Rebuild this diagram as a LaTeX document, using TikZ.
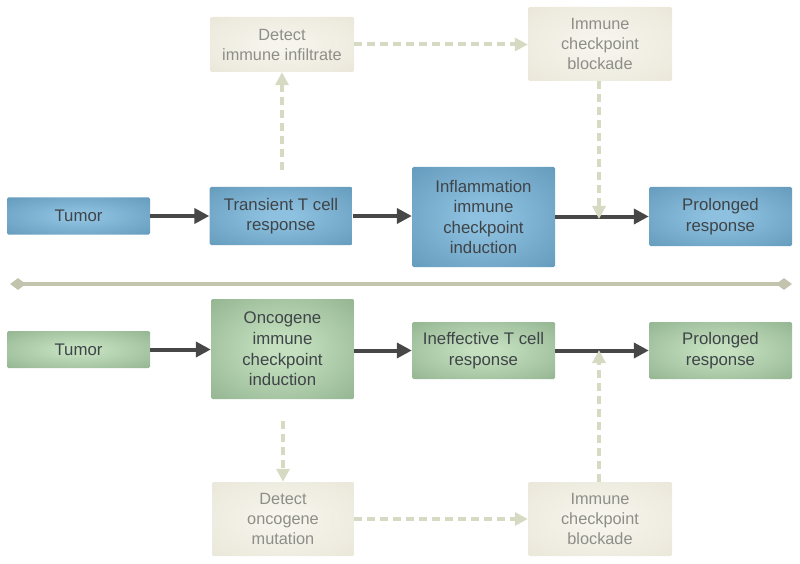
\documentclass[tikz,border=0pt]{standalone}
\usepackage{fontspec}
\setmainfont{Liberation Sans}
\usetikzlibrary{arrows.meta,shapes.geometric}
\definecolor{blueIn}{HTML}{8EC1E0}
\definecolor{blueOut}{HTML}{4F87A9}
\definecolor{greenIn}{HTML}{C4E0BF}
\definecolor{greenOut}{HTML}{7C9F7A}
\definecolor{beigeIn}{HTML}{F6F4EC}
\definecolor{beigeOut}{HTML}{E4E1D0}
\definecolor{darktext}{HTML}{3F4448}
\definecolor{lighttext}{HTML}{8E8E88}
\definecolor{dashcol}{HTML}{D6DAC3}
\definecolor{divcol}{HTML}{C2C4AE}
\definecolor{arrowcol}{HTML}{474747}
\pgfdeclareradialshading{blueshade}{\pgfpointorigin}{color(0bp)=(blueIn); color(5bp)=(blueIn); color(52bp)=(blueOut); color(72bp)=(blueOut)}
\pgfdeclareradialshading{greenshade}{\pgfpointorigin}{color(0bp)=(greenIn); color(5bp)=(greenIn); color(52bp)=(greenOut); color(72bp)=(greenOut)}
\pgfdeclareradialshading{beigeshade}{\pgfpointorigin}{color(0bp)=(beigeIn); color(5bp)=(beigeIn); color(52bp)=(beigeOut); color(72bp)=(beigeOut)}
\tikzset{
  box/.style={rectangle, rounded corners=1.5pt, inner sep=0pt, align=center,
    font=\fontsize{16.8}{20.6}\selectfont},
  bluebox/.style={box, shading=blueshade, text=darktext},
  greenbox/.style={box, shading=greenshade, text=darktext},
  beigebox/.style={box, shading=beigeshade, text=lighttext,
    font=\fontsize{16.3}{20}\selectfont},
  solidarrow/.style={draw=arrowcol, line width=4pt,
    -{Triangle[length=15pt,width=15pt]}},
  dasharrow/.style={draw=dashcol, line width=4pt, dash pattern=on 8pt off 5pt,
    -{Triangle[length=13pt,width=13pt]}},
  divdiamond/.style={diamond, fill=divcol, minimum width=16pt, minimum height=12pt, inner sep=0pt}
}
\begin{document}
\begin{tikzpicture}[x=1pt,y=-1pt]
\useasboundingbox (0,0) rectangle (800,564);
% top row
\node[bluebox, minimum width=143pt, minimum height=37pt] (t1) at (78.5,216) {Tumor};
\node[bluebox, minimum width=143pt, minimum height=58pt] (tr) at (281,216) {Transient T cell\\response};
\node[bluebox, minimum width=143pt, minimum height=100pt] (inf) at (483.5,217) {Inflammation\\immune\\checkpoint\\induction};
\node[bluebox, minimum width=143pt, minimum height=59pt] (p1) at (720.5,216.5) {Prolonged\\response};
\node[beigebox, minimum width=144pt, minimum height=55pt] (det1) at (282,44.5) {Detect\\immune infiltrate};
\node[beigebox, minimum width=144pt, minimum height=74pt] (icb1) at (600,44) {Immune\\checkpoint\\blockade};
\coordinate (j1) at (599,217);
\coordinate (s1) at (282,170);
% bottom row
\node[greenbox, minimum width=143pt, minimum height=37pt] (t2) at (78.5,349.5) {Tumor};
\node[greenbox, minimum width=143pt, minimum height=100pt] (onc) at (282.5,349) {Oncogene\\immune\\checkpoint\\induction};
\node[greenbox, minimum width=143pt, minimum height=57pt] (ine) at (483.5,350.5) {Ineffective T cell\\response};
\node[greenbox, minimum width=143pt, minimum height=57pt] (p2) at (720.5,350.5) {Prolonged\\response};
\node[beigebox, minimum width=142pt, minimum height=74pt] (det2) at (283,519) {Detect\\oncogene\\mutation};
\node[beigebox, minimum width=144pt, minimum height=74pt] (icb2) at (600,519) {Immune\\checkpoint\\blockade};
\coordinate (j2) at (599,352);
\coordinate (s2) at (283,421);
% divider
\node[divdiamond] (dl) at (18,284) {};
\node[divdiamond] (dr) at (784,284) {};
\draw[divcol, line width=4pt] (dl.center) -- (dr.center);
% solid arrows
\draw[solidarrow] (t1.east) -- (t1.east -| tr.west);
\draw[solidarrow] (tr.east) -- (tr.east -| inf.west);
\draw[solidarrow] (inf.east |- p1.west) -- (p1.west);
\draw[solidarrow] (t2.east) -- (t2.east -| onc.west);
\draw[solidarrow] (onc.east |- ine.west) -- (ine.west);
\draw[solidarrow] (ine.east) -- (p2.west);
% dashed arrows
\draw[dasharrow] (s1) -- (s1 |- det1.south);
\draw[dasharrow] (det1.east) -- (det1.east -| icb1.west);
\draw[dasharrow] (icb1.south -| j1) -- ([yshift=-2pt]j1);
\draw[dasharrow] (s2) -- (s2 |- det2.north);
\draw[dasharrow] (det2.east) -- (det2.east -| icb2.west);
\draw[dasharrow] (icb2.north -| j2) -- ([yshift=2pt]j2);
\end{tikzpicture}
\end{document}
